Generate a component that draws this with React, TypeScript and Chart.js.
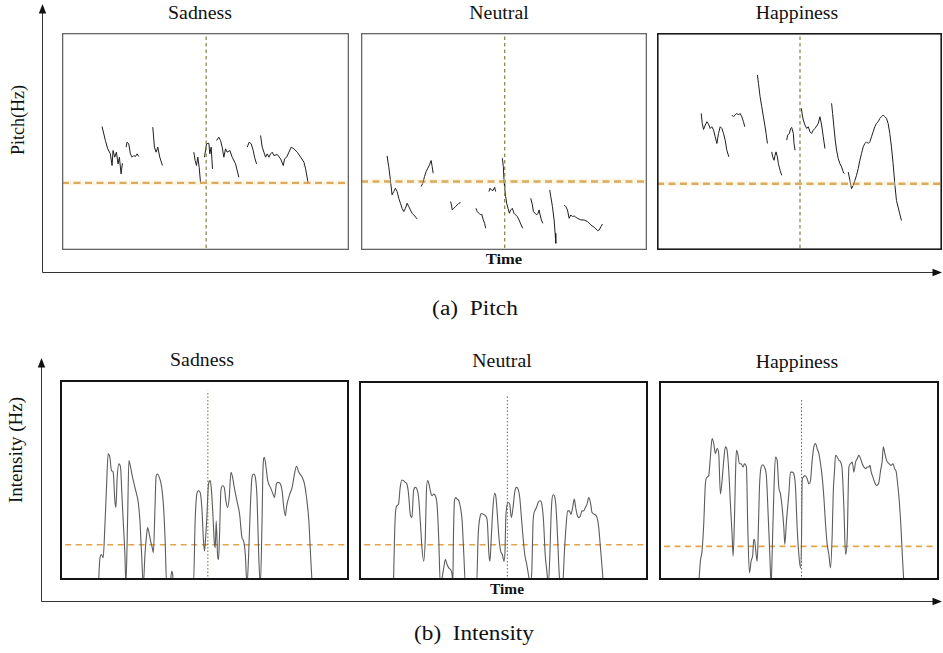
import React, { useEffect, useRef } from "react";
import { Chart, registerables } from "chart.js";

Chart.register(...registerables);

type Pt = [number, number];

// ---------- (a) Pitch: time (frames) vs relative pitch, voiced segments ----------
const pitchSadness: Pt[][] = [
  [[120, 370], [130, 328], [137, 303], [145, 288], [150, 253], [153, 298], [158, 278], [163, 293], [168, 258], [172, 278], [177, 228], [181, 260]],
  [[192, 308], [195, 323], [200, 318], [205, 288], [210, 278], [215, 283], [220, 280], [225, 288], [230, 280]],
  [[272, 368], [277, 308], [282, 293], [287, 308], [293, 278], [301, 253]],
  [[395, 293], [399, 268], [403, 253], [407, 278], [411, 248], [415, 203]],
  [[427, 278], [433, 318], [440, 320], [443, 288], [447, 308], [451, 243]],
  [[463, 328], [470, 338], [475, 328], [480, 308], [485, 278], [490, 303], [495, 293], [503, 298], [510, 278], [520, 258], [530, 218]],
  [[555, 308], [561, 323], [567, 318], [573, 298], [577, 278], [583, 258]],
  [[595, 343], [600, 308], [605, 293], [610, 278], [615, 288], [620, 278], [625, 288], [630, 293], [635, 283], [645, 286], [655, 273], [663, 253], [667, 273], [673, 278], [680, 293], [687, 308], [695, 303], [705, 293], [715, 278], [725, 263], [730, 243], [737, 203]],
];

const pitchNeutral: Pt[][] = [
  [[78, 282], [83, 250], [88, 210], [93, 165], [98, 175], [103, 185], [108, 175], [113, 155], [118, 140], [123, 125], [128, 115], [133, 125], [138, 140], [143, 130], [148, 120], [153, 110], [158, 105], [168, 93]],
  [[180, 190], [185, 200], [190, 220], [195, 235], [200, 245], [205, 255], [210, 268], [213, 250], [216, 230]],
  [[268, 145], [271, 135], [273, 120], [278, 125], [283, 130], [288, 135], [293, 140], [298, 142]],
  [[344, 125], [348, 115], [353, 110], [358, 105], [361, 108], [366, 90], [370, 80], [373, 65]],
  [[383, 175], [386, 185], [390, 180], [395, 178], [400, 188], [403, 175]],
  [[423, 275], [426, 250], [428, 210], [430, 185], [433, 160], [436, 140], [440, 125], [444, 110], [448, 120], [453, 125], [458, 110], [463, 105], [468, 100], [473, 90], [478, 78], [484, 65]],
  [[508, 155], [513, 135], [516, 115], [521, 110], [526, 105], [530, 110], [533, 120], [536, 105], [540, 90], [544, 80]],
  [[565, 180], [568, 160], [573, 130], [578, 90], [581, 50], [583, 20]],
  [[608, 135], [613, 130], [618, 120], [623, 95], [628, 105], [633, 100], [638, 102], [643, 98], [648, 95], [658, 90], [668, 90], [678, 85], [688, 75], [698, 68], [708, 58], [713, 60], [718, 70], [723, 78]],
];

const pitchHappiness: Pt[][] = [
  [[133, 408], [136, 378], [140, 360], [145, 373], [150, 383], [155, 376], [160, 363], [165, 368], [170, 358], [175, 338], [180, 318], [185, 348], [190, 368], [195, 363], [200, 348], [205, 328], [210, 298], [216, 278]],
  [[225, 403], [230, 398], [235, 403], [240, 408], [245, 403], [250, 408], [255, 398], [260, 383], [264, 368]],
  [[302, 523], [305, 498], [310, 458], [315, 428], [320, 398], [325, 368], [328, 348], [332, 318]],
  [[345, 293], [348, 278], [352, 268], [355, 283], [358, 293], [362, 278], [365, 258], [370, 238], [375, 223]],
  [[390, 328], [393, 343], [398, 348], [402, 363], [405, 366], [410, 348], [412, 318], [415, 298]],
  [[434, 423], [437, 403], [440, 388], [445, 373], [450, 363], [455, 368], [460, 353], [465, 348], [470, 358], [475, 363], [480, 370], [485, 378], [490, 398], [495, 373], [500, 338], [505, 303]],
  [[525, 438], [528, 408], [532, 368], [536, 328], [540, 298], [545, 273], [550, 258], [555, 248], [560, 233], [563, 228]],
  [[575, 233], [580, 208], [585, 183], [590, 193], [595, 208], [600, 223], [605, 243], [610, 268], [615, 288], [620, 308], [625, 318], [630, 323], [635, 318], [640, 323], [645, 338], [650, 353], [655, 368], [660, 378], [665, 383], [670, 393], [675, 398], [680, 403], [685, 398], [690, 393], [695, 378], [700, 348], [705, 308], [710, 258], [715, 198], [720, 148], [725, 128], [730, 108], [735, 88]],
];

// ---------- (b) Intensity: time (frames) vs relative intensity ----------
const intensitySadness: Pt[] = [
  [115, -15], [119, 61], [124, 76], [129, 66], [134, 156], [139, 276], [144, 376], [149, 366], [154, 326], [159, 321], [164, 236], [167, 216], [171, 306], [176, 346], [181, 336], [185, 256], [189, 176], [194, 76], [197, -15],
  [202, 176], [206, 356], [211, 336], [217, 306], [224, 276], [229, 256], [234, 231], [239, 176], [244, 76], [249, -15],
  [254, 76], [259, 136], [262, 156], [267, 136], [271, 116], [276, 96], [279, 81], [284, 216], [287, 306], [291, 316], [297, 306], [304, 276], [309, 226], [314, 126], [319, -15],
  [329, -15], [334, 26], [337, 16], [339, -15], [399, -15],
  [404, 176], [409, 256], [414, 266], [419, 261], [424, 216], [429, 116], [432, 86], [436, 136], [439, 186], [444, 286], [449, 296], [452, 276], [456, 216], [459, 156], [461, 116], [464, 96], [467, 176], [471, 76], [474, 61], [477, 136], [481, 266], [486, 281], [491, 276], [496, 236], [501, 216], [506, 246], [511, 321], [516, 306], [521, 276], [529, 236], [537, 196], [544, 126], [549, 116], [554, 76], [559, -15],
  [564, 76], [569, 216], [574, 306], [579, 316], [584, 306], [589, 246], [594, 76], [599, -15],
  [604, 176], [607, 336], [611, 366], [616, 336], [621, 296], [629, 276], [637, 256], [641, 246], [647, 286], [652, 291], [659, 286], [664, 266], [669, 216], [674, 191], [677, 216], [681, 236], [687, 256], [694, 276], [701, 316], [707, 339], [714, 321], [724, 306], [731, 286], [737, 246], [744, 176], [749, 76], [754, -15],
];

const intensityNeutral: Pt[] = [
  [103, -15], [106, 126], [109, 201], [113, 221], [118, 226], [123, 276], [128, 298], [133, 296], [138, 291], [143, 286], [148, 256], [153, 196], [158, 186], [163, 266], [168, 276], [173, 271], [178, 246], [183, 176], [188, 96], [193, 56], [198, 126], [201, 256], [205, 296], [209, 286], [213, 266], [218, 251], [223, 256], [228, 251], [233, 226], [238, 126], [243, -15],
  [253, 36], [258, 61], [263, 46], [268, 36], [273, 31], [278, 16], [280, -15],
  [282, 126], [285, 236], [289, 246], [293, 241], [298, 236], [303, 216], [308, 176], [313, 76], [318, -15], [351, -15],
  [356, 136], [361, 186], [366, 198], [371, 196], [378, 191], [383, 176], [388, 76], [391, 56], [395, 126], [400, 216], [405, 258], [409, 246], [413, 196], [418, 126], [423, 86], [428, 76], [433, 56], [436, 86], [438, 176], [441, 216], [445, 231], [450, 226], [455, 186], [460, 216], [465, 261], [470, 276], [475, 271], [480, 246], [485, 186], [490, 126], [495, 76], [501, 46], [506, 16], [511, -15],
  [516, 26], [520, 176], [525, 206], [530, 216], [535, 231], [541, 236], [546, 226], [551, 176], [556, 76], [561, 26], [565, -15],
  [570, 76], [573, 176], [576, 236], [580, 254], [585, 246], [589, 206], [593, 126], [598, 16], [601, -15], [608, -15],
  [613, 76], [618, 156], [623, 206], [628, 206], [633, 196], [638, 216], [643, 241], [647, 216], [651, 196], [656, 186], [661, 191], [666, 206], [671, 206], [676, 216], [681, 226], [686, 246], [691, 231], [696, 201], [703, 196], [711, 186], [716, 156], [721, 96], [726, 36], [730, -15],
];

const intensityHappiness: Pt[] = [
  [119, -15], [124, 56], [129, 86], [134, 166], [139, 286], [144, 306], [149, 311], [154, 366], [159, 421], [164, 406], [169, 376], [174, 391], [179, 376], [184, 256], [189, 296], [194, 356], [199, 396], [204, 386], [209, 326], [214, 226], [219, 136], [222, 71], [226, 176], [229, 306], [232, 386], [236, 376], [241, 346], [246, 346], [252, 336], [256, 346], [262, 336], [266, 156], [271, 21], [276, 56], [281, 76], [284, 121], [287, 116], [291, 76], [294, 56], [297, 126], [301, 276], [306, 336], [311, 343], [316, 336], [322, 306], [327, 196], [332, 76], [336, -15],
  [339, 76], [344, 256], [349, 366], [354, 356], [359, 276], [364, 256], [369, 216], [374, 156], [377, 106], [382, 176], [389, 256], [394, 321], [399, 321], [404, 316], [409, 276], [414, 156], [419, 76], [424, 36], [427, 116], [429, 296], [432, 306], [437, 311], [444, 301], [449, 286], [454, 296], [459, 356], [464, 396], [469, 406], [474, 391], [479, 376], [484, 346], [489, 306], [494, 246], [499, 166], [504, 106], [509, 76], [514, 36], [519, 136], [522, 256], [526, 326], [529, 371], [534, 366], [539, 356], [544, 351], [549, 326], [554, 216], [559, 76], [564, 126], [569, 336], [574, 346], [579, 351], [584, 321], [589, 351], [594, 361], [599, 371], [604, 361], [609, 346], [614, 336], [619, 331], [624, 336], [629, 336], [632, 341], [636, 321], [641, 306], [646, 291], [652, 281], [659, 291], [664, 326], [669, 356], [672, 396], [677, 376], [682, 356], [689, 346], [696, 341], [701, 346], [706, 331], [711, 321], [714, 296], [719, 246], [724, 176], [729, 76], [734, -15],
];

// reference lines: extents, mean level, midpoint time, midpoint-line top
const pitchExtent = { sadness: [860, 650], neutral: [856, 650], happiness: [857, 648] };
const pitchMean = { sadness: 201, neutral: 205, happiness: 198 };
const pitchMid = { sadness: 432, neutral: 430, happiness: 430 };
const intensityExtent = { sadness: [864, 596], neutral: [863, 593], happiness: [839, 592] };
const intensityMean = { sadness: 105, neutral: 105, happiness: 100 };
const intensityMid = { sadness: 442, neutral: 443, happiness: 427 };
const intensityMidTop = { sadness: 564, neutral: 551, happiness: 536 };

const categories = ["Sadness", "Neutral", "Happiness"];

const SERIF = '"Liberation Serif", "Times New Roman", "DejaVu Serif", serif';

type PanelProps = {
  left: number; top: number; width: number; height: number;
  segments: Pt[][];
  xMax: number; yMax: number;
  mean: number; meanFrom: number; meanTo: number;
  mid: number; midFrom: number; midTo: number;
  lineColor: string; lineWidth: number; smooth: boolean;
  frameColor: string; frameWidth: number;
  meanColor: string; meanWidth: number; meanDash: number[]; glow: boolean;
  midColor: string; midWidth: number; midDash: number[];
};

function buildSeries(segments: Pt[][]) {
  const out: { x: number; y: number | null }[] = [];
  segments.forEach((seg, i) => {
    if (i > 0) out.push({ x: seg[0][0] - 0.5, y: null });
    seg.forEach(([x, y]) => out.push({ x, y }));
  });
  return out;
}

const framePlugin = {
  id: "frame",
  afterDatasetsDraw(chart: any, _a: any, opts: any) {
    const { ctx, chartArea } = chart;
    const w = opts.width || 1;
    ctx.save();
    ctx.strokeStyle = opts.color || "#000";
    ctx.lineWidth = w;
    ctx.strokeRect(chartArea.left + w / 2, chartArea.top + w / 2, chartArea.right - chartArea.left - w, chartArea.bottom - chartArea.top - w);
    ctx.restore();
  },
};

function Panel(p: PanelProps) {
  const ref = useRef<HTMLCanvasElement | null>(null);
  useEffect(() => {
    if (!ref.current) return;
    const datasets: any[] = [];
    if (p.glow) {
      datasets.push({
        data: [{ x: p.meanFrom, y: p.mean }, { x: p.meanTo, y: p.mean }],
        borderColor: "rgba(250,232,190,0.35)", borderWidth: 5, pointRadius: 0,
      });
    }
    datasets.push({
      data: [{ x: p.mid, y: p.midFrom }, { x: p.mid, y: p.midTo }],
      borderColor: p.midColor, borderWidth: p.midWidth, borderDash: p.midDash, pointRadius: 0,
    });
    datasets.push({
      data: buildSeries(p.segments),
      borderColor: p.lineColor, borderWidth: p.lineWidth, pointRadius: 0, spanGaps: false,
      cubicInterpolationMode: p.smooth ? "monotone" : "default", tension: 0,
    });
    datasets.push({
      data: [{ x: p.meanFrom, y: p.mean }, { x: p.meanTo, y: p.mean }],
      borderColor: p.meanColor, borderWidth: p.meanWidth, borderDash: p.meanDash, pointRadius: 0,
    });
    const chart = new Chart(ref.current, {
      type: "line",
      data: { datasets },
      options: {
        animation: false,
        responsive: false,
        events: [],
        layout: { padding: 0 },
        scales: {
          x: { type: "linear", min: 0, max: p.xMax, display: false },
          y: { type: "linear", min: 0, max: p.yMax, display: false },
        },
        plugins: {
          legend: { display: false },
          tooltip: { enabled: false },
          frame: { color: p.frameColor, width: p.frameWidth },
        } as any,
      },
      plugins: [framePlugin],
    });
    return () => chart.destroy();
  }, []);
  return (
    <canvas
      ref={ref}
      width={p.width}
      height={p.height}
      style={{ position: "absolute", left: p.left, top: p.top, width: p.width, height: p.height }}
    />
  );
}

function Label(props: { x: number; y: number; text: string; size: number; weight?: number; sx?: number; rotate?: boolean }) {
  const t = props.rotate
    ? `translate(-50%,-50%) rotate(-90deg)`
    : `translate(-50%,-50%) scaleX(${props.sx ?? 1})`;
  return (
    <div
      style={{
        position: "absolute", left: props.x, top: props.y, transform: t,
        fontFamily: SERIF, fontSize: props.size, fontWeight: props.weight ?? 400,
        whiteSpace: "pre", lineHeight: 1, color: "#111",
      }}
    >
      {props.text}
    </div>
  );
}

export default function App() {
  const keys = ["sadness", "neutral", "happiness"] as const;
  const pitchData = [pitchSadness, pitchNeutral, pitchHappiness];
  const intData = [intensitySadness, intensityNeutral, intensityHappiness];
  const pitchBoxes = [
    { left: 62, top: 33, width: 287, height: 217 },
    { left: 361, top: 33, width: 286, height: 217 },
    { left: 657, top: 33, width: 285, height: 217 },
  ];
  const intBoxes = [
    { left: 60, top: 380, width: 289, height: 200 },
    { left: 359, top: 381, width: 289, height: 199 },
    { left: 659, top: 381, width: 280, height: 199 },
  ];
  const pitchFrames = [["#666", 1.3], ["#666", 1.3], ["#1a1a1a", 1.6]] as const;
  const pitchTitleX = [200, 499, 797];
  const intTitle = [[202, 360], [502, 361], [797, 362]];

  return (
    <div style={{ position: "absolute", left: 0, top: 0, width: 943, height: 653, background: "#fff", overflow: "hidden" }}>
      <svg width={943} height={653} style={{ position: "absolute", left: 0, top: 0 }}>
        <g stroke="#333" strokeWidth={1} fill="none">
          <line x1={42.5} y1={272.5} x2={42.5} y2={12} />
          <line x1={42.5} y1={272.5} x2={934} y2={272.5} />
          <line x1={41.5} y1={601.5} x2={41.5} y2={366} />
          <line x1={41.5} y1={601.5} x2={934} y2={601.5} />
        </g>
        <g fill="#111">
          <polygon points="42.5,4 38.8,13.5 46.2,13.5" />
          <polygon points="942,272.5 932.5,268.8 932.5,276.2" />
          <polygon points="41.5,358 37.8,367.5 45.2,367.5" />
          <polygon points="942,601.5 932.5,597.8 932.5,605.2" />
        </g>
      </svg>

      {keys.map((k, i) => (
        <Panel
          key={"p" + k}
          {...pitchBoxes[i]}
          segments={pitchData[i]}
          xMax={pitchExtent[k][0]} yMax={pitchExtent[k][1]}
          mean={pitchMean[k]} meanFrom={0} meanTo={pitchExtent[k][0]}
          mid={pitchMid[k]} midFrom={6} midTo={pitchExtent[k][1]}
          lineColor="#1e1e1e" lineWidth={1} smooth={false}
          frameColor={pitchFrames[i][0]} frameWidth={pitchFrames[i][1]}
          meanColor="#c98a2e" meanWidth={2.4} meanDash={[7, 4.5]} glow={true}
          midColor="#8e8a55" midWidth={1.3} midDash={[3.5, 3]}
        />
      ))}
      {keys.map((k, i) => (
        <Panel
          key={"i" + k}
          {...intBoxes[i]}
          segments={[intData[i]]}
          xMax={intensityExtent[k][0]} yMax={intensityExtent[k][1]}
          mean={intensityMean[k]} meanFrom={intensityExtent[k][0] * 0.018} meanTo={intensityExtent[k][0] * 0.995}
          mid={intensityMid[k]} midFrom={0} midTo={intensityMidTop[k]}
          lineColor="#5c5c5c" lineWidth={1.1} smooth={true}
          frameColor="#151515" frameWidth={2}
          meanColor="#e2a44c" meanWidth={1.6} meanDash={[6, 4.5]} glow={false}
          midColor="#6f6b3e" midWidth={1} midDash={[1.5, 2]}
        />
      ))}

      {categories.map((c, i) => (
        <Label key={"pt" + c} x={pitchTitleX[i]} y={13} text={c} size={18} sx={1.1} />
      ))}
      {categories.map((c, i) => (
        <Label key={"it" + c} x={intTitle[i][0]} y={intTitle[i][1]} text={c} size={18} sx={1.1} />
      ))}

      <Label x={18} y={120} text="Pitch(Hz)" size={18} rotate />
      <Label x={15} y={450} text="Intensity (Hz)" size={19} rotate />
      <Label x={504} y={259} text="Time" size={15} weight={700} sx={1.1} />
      <Label x={507} y={590} text="Time" size={14} weight={700} sx={1.1} />
      <Label x={475} y={308} text="(a)  Pitch" size={20} sx={1.17} />
      <Label x={474} y={633} text="(b)  Intensity" size={20} sx={1.16} />
    </div>
  );
}
